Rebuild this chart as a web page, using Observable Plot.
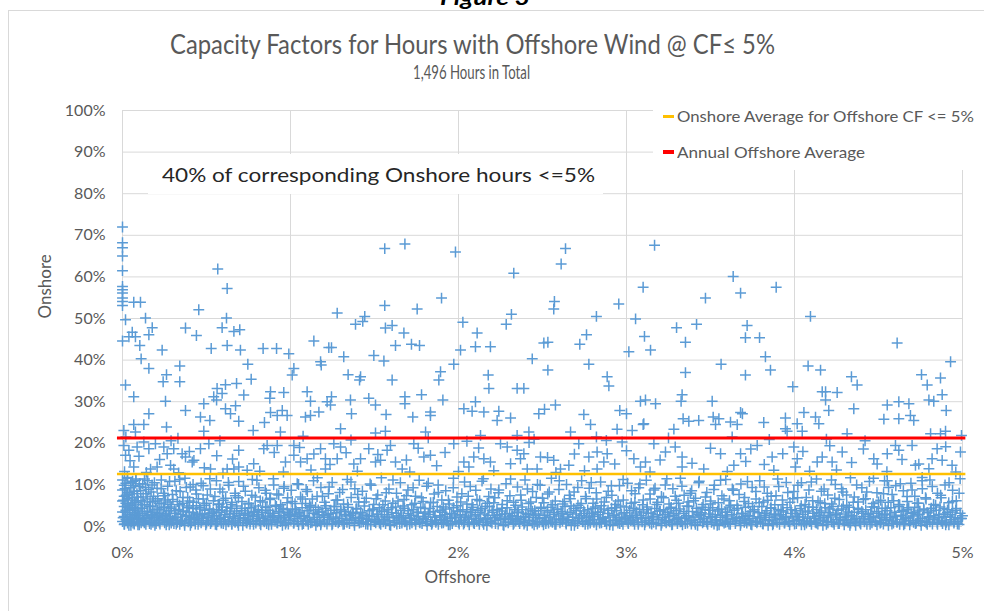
<!DOCTYPE html>
<html><head><meta charset="utf-8">
<script src="https://cdn.jsdelivr.net/npm/d3@7"></script>
<script src="https://cdn.jsdelivr.net/npm/@observablehq/plot@0.6"></script>
<style>
body{margin:0;background:#fff;}
#wrap{position:relative;width:984px;height:611px;overflow:hidden;font-family:Lato,"Open Sans",sans-serif;color:#595959;background:#fff;}
#frame{position:absolute;left:8px;top:10px;width:1000px;height:640px;border:1px solid #d9d9d9;box-sizing:border-box;}
#chart{position:absolute;left:0;top:0;}
.fit{position:absolute;white-space:nowrap;transform-origin:0 0;line-height:1;}
#legend{position:absolute;left:653px;top:99px;width:331px;height:71px;background:#fff;}
#note{position:absolute;left:148px;top:154px;width:455px;height:40px;background:#fff;}
.sw{position:absolute;left:663px;width:11px;}
</style></head>
<body><div id="wrap"><div id="frame"></div><div id="chart"></div>
<div class="fit" id="fig" style="font-weight:bold;font-style:italic;font-size:20px;color:#000;top:-13px;">Figure 3</div>
<div class="fit" id="title" style="font-size:27px;">Capacity Factors for Hours with Offshore Wind @ CF≤ 5%</div>
<div class="fit" id="subtitle" style="font-size:19px;">1,496 Hours in Total</div>
<div id="legend"></div>
<div class="sw" style="top:115px;height:2.5px;background:#FFC000;"></div>
<div class="sw" style="top:150px;height:3.5px;background:#FF0000;"></div>
<div class="fit" id="leg1" style="font-size:16px;">Onshore Average for Offshore CF &lt;= 5%</div>
<div class="fit" id="leg2" style="font-size:16px;">Annual Offshore Average</div>
<div id="note"></div>
<div class="fit" id="noteText" style="font-size:19px;color:#262626;">40% of corresponding Onshore hours &lt;=5%</div>
</div>
<script>
// ---- data (percent) ----
const offshoreTicks = [0, 1, 2, 3, 4, 5];
const onshoreTicks = [0, 10, 20, 30, 40, 50, 60, 70, 80, 90, 100];
const onshoreAvgForLowOffshore = 12.6;
const annualOffshoreAverage = 21.3;

// [offshore CF %, onshore CF %] — hours with onshore above ~21%
const upperPoints = [
[0,72.0],[0,68.2],[0,67.0],[0,65.0],[0,61.5],[0,57.7],[0,56.9],[0,56.1],[0,54.9],[0,54.1],[0,53.1],[0.067,53.9],[0.107,53.9],[0.018,49.7],[0.137,50.1],[0.177,47.8],[0.058,46.7],[0.077,45.6],[0.038,45.6],[0,44.6],[0.157,46.1],[0.103,43.5],[0.236,42.4],[0.111,40.3],[0.157,38.0],[0.018,34.0],[0.067,31.2],[0.157,27.1],[0.008,23.1],[0.067,24.5],[0.127,24.5],[0.077,22.7],[0.375,47.7],[0.44,45.9],[0.454,52.1],[0.567,61.9],[0.623,57.2],[0.619,50.1],[0.593,47.8],[0.663,46.9],[0.698,47.3],[0.528,42.8],[0.623,43.5],[0.702,42.4],[0.837,42.8],[0.917,42.8],[0.99,41.5],[0.746,39.0],[0.766,35.4],[0.341,38.6],[0.262,36.5],[0.242,34.8],[0.341,34.8],[0.256,30.1],[0.375,27.9],[0.262,23.9],[0.484,29.5],[0.464,26.3],[0.52,25.5],[0.484,22.9],[0.543,31.2],[0.563,33.2],[0.613,34.1],[0.593,32.0],[0.56,30.4],[0.679,34.4],[0.722,31.6],[0.613,28.3],[0.673,29.0],[0.643,27.1],[0.692,25.3],[0.778,23.1],[0.845,25.0],[0.881,32.4],[0.877,30.8],[0.96,32.2],[0.881,27.4],[0.921,26.7],[0.951,27.9],[0.98,26.7],[0.94,22.7],[1.02,38.0],[1.01,36.4],[1.139,44.6],[1.179,39.6],[1.183,38.8],[1.228,43.0],[1.099,32.4],[1.119,30.1],[1.218,30.0],[1.169,27.5],[1.089,26.3],[1.119,26.7],[1.075,21.7],
[1.561,66.8],[1.681,67.9],[1.982,66.0],[2.329,60.9],[1.899,54.9],[1.561,53.1],[1.754,52.3],[1.278,51.3],[1.442,50.5],[1.43,49.3],[1.387,48.6],[1.605,48.3],[1.565,47.7],[1.675,46.5],[1.625,43.5],[1.72,43.8],[1.768,43.5],[1.244,43.0],[1.317,40.8],[1.496,41.1],[1.556,39.8],[2.026,49.1],[2.111,46.5],[2.012,42.4],[2.101,43.2],[2.19,43.2],[1.972,39.0],[2.315,51.0],[2.284,48.6],[2.439,40.3],[2.508,44.1],[1.343,36.5],[1.417,36.0],[1.411,35.2],[1.605,35.2],[1.893,37.2],[1.883,35.2],[2.177,36.4],[2.181,33.2],[2.349,33.2],[2.389,33.2],[1.244,31.2],[1.238,29.2],[1.357,30.4],[1.363,27.1],[1.466,30.8],[1.506,29.2],[1.569,26.9],[1.681,31.2],[1.681,29.5],[1.78,31.7],[1.728,26.3],[1.833,27.5],[1.833,26.7],[1.907,30.4],[2.032,28.3],[2.081,27.7],[2.101,30.0],[2.151,27.5],[2.24,27.7],[2.23,25.5],[2.31,26.1],[2.478,27.1],[1.298,23.5],[1.506,22.5],[1.565,22.9],[1.804,22.7],[2.131,21.9],[2.419,22.7],[2.349,21.9],
[2.637,66.8],[2.611,63.1],[3.167,67.6],[3.635,60.1],[3.679,56.1],[3.099,57.5],[3.47,54.9],[2.571,54.1],[2.567,52.3],[2.954,53.5],[2.821,50.5],[3.054,49.9],[3.298,47.8],[3.417,48.6],[3.718,48.3],[3.708,45.4],[3.107,45.7],[3.351,44.3],[2.532,44.3],[2.722,43.8],[2.762,46.1],[3.014,42.0],[3.143,42.4],[2.532,37.6],[2.776,39.0],[2.885,36.0],[2.895,33.8],[3.351,37.0],[3.563,39.0],[3.708,36.4],[2.512,28.2],[2.577,29.2],[2.746,26.9],[2.786,24.5],[2.667,22.7],[2.821,21.5],[2.96,27.9],[3.0,27.1],[2.944,23.4],[3.034,23.1],[3.099,24.5],[3.083,30.1],[3.113,30.4],[3.173,29.5],[3.331,31.7],[3.325,30.1],[3.282,23.4],[3.337,25.9],[3.371,25.3],[3.43,25.5],[3.51,30.1],[3.516,26.3],[3.55,25.9],[3.53,24.5],[3.619,25.1],[3.659,24.5],[3.679,27.4],[3.629,21.5],[3.69,27.1],[3.103,24.7],
[3.891,57.5],[4.095,50.5],[3.792,45.4],[3.827,40.8],[3.857,37.6],[4.611,44.1],[4.929,39.6],[4.081,38.6],[4.155,37.6],[3.99,33.6],[4.339,36.0],[4.373,34.0],[4.165,32.4],[4.185,32.4],[4.254,32.2],[4.185,30.4],[4.204,27.9],[4.353,28.3],[4.056,27.4],[4.756,36.5],[4.79,34.0],[4.869,35.7],[4.879,31.7],[4.8,30.4],[4.829,30.1],[4.903,27.9],[4.552,29.2],[4.621,30.0],[4.681,29.5],[4.532,25.8],[4.621,25.9],[4.69,26.7],[4.71,25.5],[3.817,25.0],[3.946,26.1],[3.946,23.5],[3.956,22.9],[4.016,24.7],[4.046,22.9],[4.125,26.3],[4.145,24.7],[4.313,22.3],[4.81,22.3],[4.869,22.3],[4.899,22.9],[4.994,21.9],
[0.02,21.5],[0.33,21.2],[0.58,20.6],[1.36,20.8],[1.82,21.3],[2.05,20.5],[2.45,21.0],[2.88,20.7],[3.25,21.3],[3.85,20.9],[4.19,21.0],[4.42,20.6]
];

// hours with onshore between ~12% and ~21%
const middlePoints = [
[0.008,19.5],[0.018,17.1],[0.038,18.3],[0.087,19.1],[0.127,20.3],[0.157,18.7],[0.196,19.9],[0.246,19.1],[0.266,17.5],[0.305,18.7],[0.355,17.5],[0.375,16.7],[0.425,15.9],[0.464,18.7],[0.514,19.9],[0.524,13.8],[0.623,13.8],[0.692,18.3],[0.692,14.3],[0.742,13.5],[0.841,18.7],[0.861,19.5],[0.921,19.5],[0.97,15.5],[1.02,19.5],[1.02,17.1],[1.06,15.5],[1.099,16.3],[1.139,17.4],[1.179,18.7],[1.208,16.3],[0.067,14.3],[0.167,13.8],[0.206,14.3],[0.286,14.7],[0.305,13.8],[0.415,15.5],[0.663,13.8],
[1.258,19.9],[1.298,19.1],[1.377,15.0],[1.466,18.7],[1.506,15.5],[1.536,15.9],[1.575,18.3],[1.595,19.5],[1.625,15.5],[1.665,13.8],[1.734,19.9],[1.794,16.7],[1.833,17.1],[1.972,19.9],[2.032,15.5],[2.062,14.3],[2.091,16.7],[2.151,16.3],[2.19,15.5],[2.25,19.9],[2.29,19.1],[2.349,18.3],[2.369,16.3],[2.389,17.5],[2.409,13.8],[2.468,13.8],[2.488,16.7],[2.567,15.9],[2.657,14.7],[2.716,19.9],[2.776,16.7],[2.825,17.9],[2.865,15.5],[2.885,17.5],[2.974,20.3],[3.044,16.3],[3.083,14.3],[3.113,15.5],[1.417,16.3],[1.278,16.3],[1.208,13.8],[2.825,13.8],[2.607,13.8],
[3.163,19.9],[3.232,17.9],[3.331,16.7],[3.331,14.3],[3.46,13.8],[3.56,17.5],[3.639,14.7],[3.679,17.5],[3.778,19.5],[3.867,16.7],[3.877,13.5],[3.996,19.1],[4.016,16.3],[4.006,14.3],[4.135,15.5],[4.165,16.7],[4.224,15.5],[4.284,17.9],[4.472,16.3],[4.492,15.0],[4.552,17.5],[4.601,19.5],[4.621,18.3],[4.7,19.5],[4.72,14.7],[4.74,15.0],[4.819,16.3],[4.849,18.7],[4.879,15.9],[4.938,14.7],[4.988,17.9],[4.76,11.8],[4.552,11.0]
];
// more hours in the 12–21% band (offshore, onshore pairs, flat)
const middleExtra = [0.012,13.2,0.045,15.8,0.098,16.9,0.142,13.0,0.221,16.1,0.289,20.6,0.334,12.9,0.398,18.0,0.487,14.1,0.561,17.0,0.598,12.8,0.655,16.2,0.781,15.1,0.817,13.3,0.903,17.8,0.958,13.1,1.054,19.0,1.122,13.6,1.235,14.9,1.331,17.7,1.398,13.3,1.52,17.3,1.69,16.0,1.71,13.1,1.76,18.8,1.87,14.6,1.92,17.8,2.0,13.2,2.12,18.9,2.21,13.4,2.31,15.1,2.42,20.2,2.53,16.6,2.58,13.0,2.69,17.4,2.75,13.4,2.93,15.0,3.0,18.2,3.14,13.1,3.2,16.0,3.29,19.1,3.39,15.2,3.5,18.8,3.6,13.2,3.71,15.6,3.74,18.6,3.82,14.9,3.93,17.5,4.05,18.0,4.09,13.3,4.21,19.4,4.25,13.6,4.34,15.4,4.41,18.6,4.55,13.2,4.64,16.1,4.8,13.9,4.9,19.2,4.96,13.1];

// hours with onshore at or below ~12%
const lowerPoints = [
[0.00,1.2],[0.00,3.5],[0.00,6.1],[0.00,8.8],[0.00,11.2],[0.01,0.5],[0.01,2.4],[0.01,4.8],[0.01,7.3],[0.01,9.9],[0.02,1.7],[0.02,3.9],[0.02,5.6],[0.02,10.4],[0.03,0.8],[0.03,2.9],[0.03,6.8],[0.03,8.1],[0.03,11.6],[0.04,1.4],[0.04,4.2],[0.04,7.7],[0.05,0.3],[0.05,2.2],[0.05,5.1],[0.05,9.3],[0.06,1.9],[0.06,3.3],[0.06,6.4],[0.06,10.9],[0.07,0.6],[0.07,4.6],[0.07,8.5],[0.08,2.7],[0.08,5.8],[0.08,11.4],[0.09,1.1],[0.09,3.7],[0.09,7.1],[0.10,0.4],[0.10,2.5],[0.10,9.6],[0.11,4.4],[0.11,6.2],[0.12,1.5],[0.12,3.1],[0.12,10.2],[0.13,0.9],[0.13,5.3],[0.14,2.1],[0.14,7.9],[0.15,3.6],[0.15,11.0],[0.16,1.3],[0.16,4.9],[0.17,0.5],[0.17,2.8],[0.17,8.3],[0.18,3.4],[0.18,6.0],[0.19,1.8],[0.19,10.5],[0.20,0.7],[0.20,4.1],[0.21,2.6],[0.21,6.7],[0.22,1.0],[0.22,3.2],[0.23,5.5],[0.23,9.1],[0.24,1.6],[0.24,2.3],[0.25,4.7],[0.25,7.4],[0.26,0.4],[0.26,3.0],[0.27,1.9],[0.27,5.9],[0.28,2.4],[0.28,10.8],[0.29,0.8],[0.29,4.3],[0.30,1.4],[0.30,6.5],
[0.31,3.8],[0.32,0.6],[0.32,8.6],[0.33,2.1],[0.34,5.2],[0.34,11.3],[0.35,1.2],[0.36,3.6],[0.36,7.0],[0.37,0.3],[0.38,2.7],[0.38,9.4],[0.39,4.5],[0.40,1.7],[0.40,6.1],[0.41,0.9],[0.42,3.3],[0.42,10.1],[0.43,2.0],[0.44,5.0],[0.44,7.8],[0.45,0.5],[0.46,2.9],[0.46,4.2],[0.47,1.4],[0.48,6.6],[0.48,9.8],[0.49,3.1],[0.50,0.8],[0.50,5.6],[0.51,2.3],[0.52,4.0],[0.52,11.5],[0.53,1.1],[0.54,3.5],[0.55,7.2],[0.56,0.4],[0.56,2.6],[0.57,5.3],[0.58,1.8],[0.58,9.0],[0.59,3.9],[0.60,0.7],[0.60,6.3],[0.61,2.2],[0.62,4.6],[0.63,1.3],[0.63,10.6],[0.64,3.0],[0.65,0.6],[0.65,5.8],[0.66,2.4],[0.67,1.0],[0.67,8.0],[0.68,3.7],[0.69,0.3],[0.69,6.9],[0.70,2.0],[0.71,4.4],[0.72,1.5],[0.72,9.7],[0.73,3.2],[0.74,0.8],[0.75,5.4],[0.75,2.7],[0.76,1.2],[0.77,7.5],[0.78,3.4],[0.78,0.5],[0.79,4.9],[0.80,1.9],[0.80,11.1],[0.81,2.8],[0.82,0.7],[0.82,6.2],[0.83,3.8],[0.84,1.4],[0.85,8.7],[0.85,2.3],[0.86,4.7],[0.87,0.4],[0.88,3.1],[0.88,6.8],[0.89,1.7],[0.90,10.0],[0.90,2.5],[0.91,5.1],[0.92,0.9],[0.93,3.6],[0.93,7.6],[0.94,1.2],[0.95,4.3],[0.96,2.1],[0.96,9.2],[0.97,0.6],[0.98,5.7],[0.99,3.0],[0.99,1.5],
[1.00,2.7],[1.01,6.0],[1.02,0.8],[1.03,4.1],[1.04,1.9],[1.04,10.3],[1.05,3.3],[1.06,7.1],[1.07,0.5],[1.08,2.4],[1.09,5.5],[1.10,1.3],[1.10,8.4],[1.11,3.9],[1.12,0.9],[1.13,6.6],[1.14,2.2],[1.15,4.6],[1.16,1.1],[1.16,11.7],[1.17,3.5],[1.18,0.4],[1.19,7.3],[1.20,2.6],[1.21,5.0],[1.22,1.6],[1.23,9.5],[1.24,3.1],[1.25,0.7],[1.26,4.8],[1.27,2.0],[1.28,6.4],[1.29,1.2],[1.30,3.7],[1.31,8.9],[1.32,0.6],[1.33,2.9],[1.34,5.3],[1.35,1.5],[1.36,10.7],[1.37,3.4],[1.38,0.9],[1.39,4.2],[1.40,7.7],[1.41,2.1],[1.42,1.0],[1.43,3.0],[1.44,5.9],[1.45,1.8],[1.46,0.5],[1.47,2.5],[1.48,9.9],[1.49,4.0],[1.50,1.3],[1.51,6.7],[1.52,2.8],[1.53,0.8],[1.54,3.6],[1.55,5.2],[1.56,1.7],[1.57,8.1],[1.58,2.3],[1.59,0.4],[1.60,4.5],[1.61,11.2],[1.62,1.4],[1.63,3.2],[1.64,6.1],[1.65,0.7],[1.66,2.6],[1.67,4.9],[1.68,1.1],[1.69,7.4],[1.70,3.8],[1.71,0.6],[1.72,2.0],[1.73,9.3],[1.74,5.6],[1.75,1.6],[1.76,3.3],[1.77,0.9],[1.78,6.9],[1.79,2.4],[1.80,4.3],[1.81,1.2],[1.82,10.4],[1.83,3.5],[1.84,0.5],[1.85,5.8],[1.86,2.2],[1.87,1.5],[1.88,8.2],[1.89,3.9],[1.90,0.8],[1.91,4.7],[1.92,2.9],[1.93,1.3],[1.94,6.3],[1.95,0.4],[1.96,3.1],[1.97,11.6],[1.98,2.1],[1.99,5.0],
[2.00,1.0],[2.01,3.6],[2.02,7.9],[2.03,0.6],[2.04,2.5],[2.05,5.4],[2.06,1.8],[2.07,9.6],[2.08,4.1],[2.09,0.9],[2.10,2.8],[2.11,6.5],[2.12,1.4],[2.13,3.4],[2.14,10.9],[2.15,0.5],[2.16,4.8],[2.17,2.0],[2.18,7.2],[2.19,1.1],[2.20,3.9],[2.21,5.7],[2.22,0.7],[2.23,2.6],[2.24,8.8],[2.25,1.6],[2.26,4.4],[2.27,0.3],[2.28,3.0],[2.29,6.2],[2.30,1.9],[2.31,11.4],[2.32,2.4],[2.33,0.8],[2.34,5.1],[2.35,3.3],[2.36,1.2],[2.37,7.6],[2.38,4.0],[2.39,0.6],[2.40,2.2],[2.41,9.0],[2.42,1.5],[2.43,5.9],[2.44,3.7],[2.45,0.4],[2.46,2.7],[2.47,10.1],[2.48,1.0],[2.49,4.6],[2.50,6.8],[2.51,2.1],[2.52,0.7],[2.53,3.5],[2.54,8.3],[2.55,1.3],[2.56,5.2],[2.57,2.9],[2.58,0.5],[2.59,4.2],[2.60,11.0],[2.61,1.7],[2.62,3.2],[2.63,6.0],[2.64,0.9],[2.65,2.3],[2.66,7.5],[2.67,4.9],[2.68,1.4],[2.69,0.3],[2.70,3.8],[2.71,9.4],[2.72,2.0],[2.73,5.5],[2.74,1.1],[2.75,3.1],[2.76,6.7],[2.77,0.6],[2.78,2.5],[2.79,10.6],[2.80,4.3],[2.81,1.6],[2.82,8.1],[2.83,3.4],[2.84,0.8],[2.85,5.0],[2.86,2.2],[2.87,1.2],[2.88,7.0],[2.89,3.9],[2.90,0.4],[2.91,9.8],[2.92,2.7],[2.93,4.5],[2.94,1.5],[2.95,6.1],[2.96,0.7],[2.97,3.0],[2.98,11.3],[2.99,1.9],
[3.00,4.7],[3.01,0.9],[3.02,2.6],[3.03,8.6],[3.04,1.3],[3.05,5.8],[3.06,3.5],[3.07,0.5],[3.08,10.2],[3.09,2.1],[3.10,6.4],[3.11,1.0],[3.12,4.0],[3.13,3.2],[3.14,7.8],[3.15,0.6],[3.16,2.4],[3.17,9.2],[3.18,5.3],[3.19,1.7],[3.20,3.7],[3.21,0.8],[3.22,6.9],[3.23,2.8],[3.24,11.5],[3.25,1.4],[3.26,4.4],[3.27,0.4],[3.28,3.1],[3.29,7.3],[3.30,2.0],[3.31,5.6],[3.32,1.1],[3.33,9.7],[3.34,3.6],[3.35,0.7],[3.36,4.9],[3.37,2.3],[3.38,8.0],[3.39,1.5],[3.40,6.2],[3.41,0.5],[3.42,3.3],[3.43,10.5],[3.44,2.6],[3.45,4.6],[3.46,1.2],[3.47,7.1],[3.48,0.9],[3.49,3.9],[3.50,5.4],[3.51,2.2],[3.52,8.9],[3.53,1.6],[3.54,0.3],[3.55,4.1],[3.56,11.1],[3.57,2.7],[3.58,6.6],[3.59,1.0],[3.60,3.4],[3.61,0.6],[3.62,5.1],[3.63,9.0],[3.64,2.0],[3.65,1.3],[3.66,4.3],[3.67,7.7],[3.68,0.8],[3.69,3.0],[3.70,6.0],[3.71,1.8],[3.72,10.8],[3.73,2.5],[3.74,0.5],[3.75,4.8],[3.76,3.6],[3.77,8.4],[3.78,1.2],[3.79,5.7],[3.80,2.1],[3.81,0.7],[3.82,9.5],[3.83,3.2],[3.84,6.3],[3.85,1.5],[3.86,4.5],[3.87,0.4],[3.88,2.8],[3.89,7.4],[3.90,11.4],[3.91,1.9],[3.92,3.8],[3.93,5.2],[3.94,0.9],[3.95,2.4],[3.96,8.2],[3.97,1.1],[3.98,4.0],[3.99,6.7],
[4.00,0.6],[4.01,3.1],[4.02,9.9],[4.03,1.7],[4.04,5.0],[4.05,2.3],[4.06,0.4],[4.07,7.0],[4.08,3.7],[4.09,1.2],[4.10,10.7],[4.11,4.6],[4.12,2.0],[4.13,0.8],[4.14,6.1],[4.15,3.3],[4.16,8.5],[4.17,1.4],[4.18,5.5],[4.19,0.5],[4.20,2.7],[4.21,4.2],[4.22,11.2],[4.23,1.0],[4.24,6.8],[4.25,3.0],[4.26,0.7],[4.27,2.2],[4.28,9.1],[4.29,4.9],[4.30,1.6],[4.31,7.6],[4.32,3.5],[4.33,0.3],[4.34,2.6],[4.35,5.8],[4.36,1.1],[4.37,10.0],[4.38,4.1],[4.39,0.9],[4.40,3.2],[4.41,6.5],[4.42,1.8],[4.43,8.3],[4.44,2.4],[4.45,0.5],[4.46,4.7],[4.47,11.6],[4.48,1.3],[4.49,3.6],[4.50,5.9],[4.51,0.8],[4.52,2.1],[4.53,7.9],[4.54,4.4],[4.55,1.5],[4.56,9.4],[4.57,3.0],[4.58,0.6],[4.59,6.2],[4.60,2.5],[4.61,1.0],[4.62,5.3],[4.63,10.3],[4.64,3.8],[4.65,0.4],[4.66,2.0],[4.67,7.2],[4.68,4.5],[4.69,1.4],[4.70,8.8],[4.71,3.3],[4.72,0.7],[4.73,5.6],[4.74,2.8],[4.75,1.2],[4.76,11.0],[4.77,4.0],[4.78,6.9],[4.79,0.5],[4.80,2.3],[4.81,3.7],[4.82,9.6],[4.83,1.7],[4.84,5.1],[4.85,0.9],[4.86,2.9],[4.87,7.5],[4.88,1.3],[4.89,4.3],[4.90,0.4],[4.91,3.4],[4.92,10.5],[4.93,2.2],[4.94,6.0],[4.95,1.1],[4.96,3.9],[4.97,0.6],[4.98,8.0],[4.99,1.9],[5.00,2.6]
];

// the dense 0–5% onshore floor (offshore, onshore pairs, flat)
const floorHours = [
0.004,2.1,0.012,0.6,0.019,3.4,0.026,1.5,0.031,4.6,0.038,0.3,0.044,2.8,0.052,1.1,0.058,3.9,0.063,0.8,0.071,2.3,0.077,4.2,0.083,1.7,0.092,0.4,0.097,3.1,0.104,2.0,0.111,0.9,0.118,4.4,0.124,1.3,0.133,2.7,0.139,0.5,0.146,3.6,0.152,1.9,0.161,0.7,0.167,4.8,0.172,2.5,0.181,1.0,0.188,3.3,0.193,0.3,0.202,2.2,0.209,4.0,0.214,1.4,0.223,0.6,0.229,3.0,0.236,1.8,0.243,4.5,0.251,0.9,0.257,2.6,0.264,1.2,0.272,3.8,0.278,0.4,0.285,2.0,0.291,4.7,0.298,1.6,0.306,0.7,0.313,3.2,0.319,2.3,0.327,1.0,0.334,4.1,0.341,0.5,0.347,2.9,0.356,1.5,0.362,3.7,0.369,0.8,0.377,2.4,0.383,4.9,0.391,1.1,0.398,3.5,0.404,0.3,0.412,2.1,0.419,4.3,0.425,1.7,0.433,0.6,0.439,3.0,0.447,2.5,0.454,1.3,0.461,4.6,0.468,0.9,0.474,2.8,0.482,1.9,0.489,3.9,0.496,0.4,
0.503,2.2,0.511,1.4,0.517,4.2,0.524,0.7,0.532,3.1,0.538,1.8,0.546,2.6,0.553,0.5,0.559,4.0,0.567,1.2,0.574,3.4,0.581,2.0,0.588,0.8,0.594,4.7,0.602,1.6,0.609,2.9,0.616,0.4,0.622,3.7,0.631,1.1,0.637,2.3,0.644,4.4,0.651,0.6,0.658,1.9,0.666,3.2,0.672,1.3,0.679,4.9,0.687,0.9,0.694,2.7,0.701,1.5,0.708,3.8,0.716,0.3,0.722,2.1,0.729,4.3,0.737,1.0,0.744,3.0,0.751,1.7,0.759,0.6,0.766,4.5,0.772,2.4,0.779,1.2,0.787,3.6,0.794,0.8,0.801,2.8,0.808,4.1,0.815,1.4,0.823,0.4,0.829,3.3,0.836,2.0,0.844,1.1,0.851,4.6,0.858,0.7,0.866,2.5,0.872,3.9,0.879,1.6,0.887,0.5,0.894,3.1,0.901,2.2,0.908,1.3,0.916,4.8,0.923,0.9,0.929,2.6,0.937,3.5,0.944,1.8,0.952,0.3,0.958,4.0,0.966,2.3,0.973,1.0,0.981,3.4,0.987,0.6,0.994,2.9,
1.003,1.5,1.011,4.2,1.018,0.8,1.026,2.4,1.033,3.7,1.041,1.2,1.048,0.4,1.054,3.0,1.062,1.9,1.069,4.5,1.077,0.7,1.084,2.6,1.091,1.4,1.099,3.8,1.106,0.5,1.113,2.1,1.121,4.7,1.128,1.0,1.136,3.2,1.143,1.7,1.151,0.3,1.158,2.8,1.165,4.0,1.173,1.3,1.181,0.8,1.188,3.5,1.195,2.2,1.203,1.1,1.209,4.4,1.217,0.6,1.224,2.9,1.232,1.6,1.239,3.9,1.247,0.4,1.254,2.3,1.262,4.8,1.269,1.2,1.276,3.3,1.284,0.9,1.291,2.0,1.299,4.1,1.306,1.5,1.313,0.5,1.321,3.6,1.328,2.5,1.336,1.0,1.343,4.6,1.351,0.7,1.358,2.7,1.366,1.8,1.373,3.1,1.381,0.3,1.388,2.2,1.395,4.3,1.403,1.4,1.41,0.8,1.418,3.4,1.425,2.0,1.433,1.1,1.44,4.9,1.448,0.6,1.455,2.6,1.463,1.7,1.47,3.8,1.478,0.4,1.485,2.4,1.492,4.2,1.499,1.2,
1.507,0.9,1.514,3.0,1.522,1.6,1.529,4.5,1.537,0.5,1.544,2.3,1.552,1.1,1.559,3.7,1.566,0.7,1.574,2.8,1.581,4.1,1.589,1.4,1.596,0.3,1.604,3.3,1.611,2.1,1.618,1.0,1.626,4.7,1.633,0.6,1.641,2.5,1.648,1.8,1.656,3.9,1.663,0.8,1.671,2.2,1.678,4.4,1.686,1.3,1.693,0.4,1.701,3.1,1.708,1.9,1.716,2.7,1.723,0.9,1.731,4.0,1.738,1.5,1.745,0.5,1.753,3.5,1.76,2.4,1.768,1.1,1.775,4.6,1.783,0.7,1.79,2.0,1.798,3.2,1.805,1.6,1.813,0.3,1.82,2.9,1.828,4.3,1.835,1.2,1.843,0.8,1.85,3.6,1.858,2.2,1.865,1.0,1.873,4.8,1.88,0.5,1.888,2.6,1.895,1.7,1.903,3.4,1.91,0.9,1.918,2.3,1.925,4.2,1.933,1.4,1.94,0.4,1.948,3.0,1.955,1.9,1.963,0.7,1.97,4.5,1.978,2.5,1.985,1.2,1.993,3.7,
2.004,0.6,2.011,2.8,2.019,1.5,2.026,4.0,2.034,0.9,2.041,2.2,2.049,3.6,2.056,1.1,2.064,0.4,2.071,3.3,2.079,1.8,2.086,4.6,2.094,0.7,2.101,2.5,2.109,1.3,2.116,3.9,2.124,0.5,2.131,2.0,2.139,4.3,2.146,1.0,2.154,3.0,2.161,1.6,2.169,0.3,2.176,2.7,2.184,4.8,2.191,1.2,2.199,0.8,2.206,3.4,2.214,2.1,2.221,1.5,2.229,4.1,2.236,0.6,2.244,2.9,2.251,1.9,2.259,3.7,2.266,0.4,2.274,2.3,2.281,1.1,2.289,4.5,2.296,0.9,2.304,3.1,2.311,1.7,2.319,2.6,2.326,0.5,2.334,4.0,2.341,1.3,2.349,2.0,2.356,3.5,2.364,0.7,2.371,1.6,2.379,4.7,2.386,2.4,2.394,1.0,2.401,3.2,2.409,0.3,2.416,2.8,2.424,1.4,2.431,4.2,2.439,0.8,2.446,2.2,2.454,3.8,2.461,1.2,2.469,0.6,2.476,3.0,2.484,1.9,2.491,4.4,2.499,1.1,
2.506,0.4,2.514,2.7,2.521,1.5,2.529,3.9,2.536,0.8,2.544,2.3,2.551,4.6,2.559,1.0,2.566,3.3,2.574,0.5,2.581,1.8,2.589,4.1,2.596,2.5,2.604,0.9,2.611,3.6,2.619,1.3,2.626,2.0,2.634,4.8,2.641,0.6,2.649,2.9,2.656,1.6,2.664,3.4,2.671,0.3,2.679,2.2,2.686,4.3,2.694,1.1,2.701,3.0,2.709,0.7,2.716,1.9,2.724,4.5,2.731,2.6,2.739,1.2,2.746,3.7,2.754,0.5,2.761,2.1,2.769,4.0,2.776,1.4,2.784,0.8,2.791,3.2,2.799,2.4,2.806,1.0,2.814,4.7,2.821,0.4,2.829,2.8,2.836,1.7,2.844,3.5,2.851,0.9,2.859,2.0,2.866,4.2,2.874,1.3,2.881,0.6,2.889,3.1,2.896,2.3,2.904,1.1,2.911,4.4,2.919,0.3,2.926,2.7,2.934,1.5,2.941,3.8,2.949,0.8,2.956,2.2,2.964,4.9,2.971,1.2,2.979,0.5,2.986,3.3,2.994,1.8,
3.003,2.5,3.011,0.7,3.018,3.9,3.026,1.4,3.033,2.2,3.041,4.4,3.048,0.5,3.056,3.0,3.063,1.8,3.071,0.9,3.078,4.1,3.086,2.6,3.093,1.1,3.101,3.5,3.108,0.4,3.116,2.0,3.123,4.7,3.131,1.5,3.138,0.8,3.146,3.2,3.153,2.3,3.161,1.0,3.168,4.3,3.176,0.6,3.183,2.8,3.191,1.7,3.198,3.7,3.206,0.3,3.213,2.1,3.221,4.0,3.228,1.3,3.236,0.9,3.243,3.4,3.251,2.4,3.258,1.1,3.266,4.6,3.273,0.5,3.281,2.7,3.288,1.6,3.296,3.8,3.303,0.7,3.311,2.2,3.318,4.2,3.326,1.2,3.333,0.4,3.341,3.1,3.348,1.9,3.356,2.6,3.363,0.8,3.371,4.8,3.378,1.4,3.386,0.6,3.393,3.6,3.401,2.3,3.408,1.0,3.416,4.4,3.423,0.3,3.431,2.9,3.438,1.7,3.446,3.3,3.453,0.9,3.461,2.0,3.468,4.1,3.476,1.2,3.483,0.5,3.491,3.0,3.498,2.4,
3.506,1.0,3.513,4.5,3.521,0.6,3.528,2.8,3.536,1.6,3.543,3.7,3.551,0.4,3.558,2.2,3.566,4.2,3.573,1.3,3.581,0.8,3.588,3.4,3.596,2.5,3.603,1.1,3.611,4.7,3.618,0.5,3.626,2.9,3.633,1.8,3.641,3.9,3.648,0.7,3.656,2.1,3.663,4.3,3.671,1.4,3.678,0.3,3.686,3.2,3.693,2.4,3.701,1.0,3.708,4.6,3.716,0.8,3.723,2.6,3.731,1.5,3.738,3.6,3.746,0.4,3.753,2.0,3.761,4.0,3.768,1.2,3.776,0.9,3.783,3.3,3.791,2.3,3.798,1.1,3.806,4.8,3.813,0.6,3.821,2.7,3.828,1.7,3.836,3.8,3.843,0.3,3.851,2.2,3.858,4.4,3.866,1.3,3.873,0.7,3.881,3.0,3.888,2.5,3.896,1.0,3.903,4.1,3.911,0.5,3.918,2.8,3.926,1.6,3.933,3.5,3.941,0.8,3.948,2.1,3.956,4.5,3.963,1.2,3.971,0.4,3.978,3.1,3.986,2.4,3.993,1.4,
4.004,3.8,4.011,0.7,4.019,2.3,4.026,1.5,4.034,4.3,4.041,0.4,4.049,2.9,4.056,1.1,4.064,3.5,4.071,0.8,4.079,2.0,4.086,4.7,4.094,1.3,4.101,0.5,4.109,3.2,4.116,2.4,4.124,1.0,4.131,4.1,4.139,0.6,4.146,2.7,4.154,1.8,4.161,3.7,4.169,0.3,4.176,2.2,4.184,4.5,4.191,1.2,4.199,0.9,4.206,3.3,4.214,2.5,4.221,1.1,4.229,4.8,4.236,0.5,4.244,2.8,4.251,1.6,4.259,3.9,4.266,0.7,4.274,2.1,4.281,4.2,4.289,1.4,4.296,0.4,4.304,3.0,4.311,2.3,4.319,1.0,4.326,4.6,4.334,0.8,4.341,2.6,4.349,1.7,4.356,3.4,4.364,0.3,4.371,2.0,4.379,4.4,4.386,1.3,4.394,0.6,4.401,3.6,4.409,2.4,4.416,1.1,4.424,4.0,4.431,0.5,4.439,2.9,4.446,1.8,4.454,3.2,4.461,0.9,4.469,2.2,4.476,4.7,4.484,1.2,4.491,0.4,4.499,3.1,
4.506,2.5,4.514,1.0,4.521,4.3,4.529,0.6,4.536,2.8,4.544,1.6,4.551,3.8,4.559,0.3,4.566,2.1,4.574,4.5,4.581,1.3,4.589,0.8,4.596,3.4,4.604,2.4,4.611,1.1,4.619,4.8,4.626,0.5,4.634,2.7,4.641,1.7,4.649,3.6,4.656,0.7,4.664,2.2,4.671,4.1,4.679,1.4,4.686,0.4,4.694,3.1,4.701,2.5,4.709,1.0,4.716,4.6,4.724,0.8,4.731,2.9,4.739,1.5,4.746,3.7,4.754,0.3,4.761,2.0,4.769,4.2,4.776,1.2,4.784,0.9,4.791,3.3,4.799,2.3,4.806,1.1,4.814,4.4,4.821,0.6,4.829,2.6,4.836,1.8,4.844,3.9,4.851,0.5,4.859,2.2,4.866,4.7,4.874,1.3,4.881,0.7,4.889,3.0,4.896,2.4,4.904,1.0,4.911,4.0,4.919,0.4,4.926,2.8,4.934,1.6,4.941,3.5,4.949,0.8,4.956,2.1,4.964,4.3,4.971,1.2,4.979,0.5,4.986,3.2,4.994,1.9
];

// additional hours in the 5–12% onshore range (offshore, onshore pairs, flat)
const lowerExtra = [
0.006,6.3,0.015,9.1,0.022,7.5,0.029,11.8,0.036,5.4,0.043,8.2,0.049,10.6,0.056,6.9,0.064,9.8,0.072,5.7,0.079,11.1,0.086,7.9,0.094,6.2,0.101,10.3,0.108,8.6,0.116,5.2,0.123,7.1,0.131,11.4,0.138,9.4,0.147,6.6,0.156,8.9,0.164,5.9,0.176,10.0,0.185,7.3,0.197,6.1,0.206,9.2,0.218,5.5,0.231,11.2,0.244,8.0,0.256,6.4,0.269,9.7,0.283,5.3,0.297,7.7,0.312,10.9,0.326,6.0,0.343,8.4,0.358,5.6,0.372,11.6,0.388,7.0,0.403,9.5,0.421,5.8,0.437,8.8,0.452,6.7,0.468,10.4,0.487,5.1,0.505,7.6,0.523,9.0,0.541,6.2,0.559,11.0,0.577,5.4,0.596,8.3,0.614,6.8,0.633,9.9,0.651,5.3,0.672,7.4,0.692,10.8,0.711,6.0,0.731,8.5,0.752,5.6,0.773,11.3,0.791,7.1,0.812,9.3,0.834,5.9,0.856,8.0,0.877,6.5,0.898,11.5,0.919,7.8,0.941,5.2,0.962,9.6,0.983,6.9,
1.005,8.7,1.027,5.5,1.048,10.1,1.071,6.6,1.093,8.9,1.114,5.1,1.137,11.0,1.158,7.2,1.181,9.4,1.203,5.8,1.226,7.9,1.248,10.6,1.271,6.3,1.293,8.2,1.316,5.4,1.338,11.3,1.361,7.0,1.383,9.1,1.406,5.9,1.428,8.5,1.451,6.8,1.474,10.2,1.496,5.3,1.519,7.6,1.541,11.7,1.564,6.1,1.586,9.0,1.609,5.6,1.631,8.0,1.654,10.5,1.676,6.5,1.699,8.8,1.721,5.2,1.744,7.3,1.766,11.1,1.789,6.0,1.811,9.7,1.834,5.7,1.856,7.8,1.879,10.0,1.901,6.4,1.924,8.6,1.946,5.4,1.969,9.3,1.991,7.1,
2.013,5.9,2.036,10.7,2.058,7.3,2.081,5.2,2.103,8.7,2.126,6.2,2.148,11.5,2.171,5.6,2.193,9.0,2.216,6.9,2.238,8.1,2.261,5.3,2.283,10.3,2.306,7.4,2.328,5.8,2.351,9.5,2.373,6.3,2.396,11.2,2.418,5.5,2.441,8.4,2.463,7.0,2.486,9.9,2.508,5.7,2.531,7.8,2.553,11.6,2.576,6.1,2.598,8.9,2.621,5.4,2.643,10.1,2.666,6.7,2.688,8.3,2.711,5.1,2.733,11.0,2.756,7.2,2.778,9.2,2.801,5.6,2.823,6.6,2.846,10.7,2.868,5.9,2.891,8.5,2.913,7.5,2.936,5.3,2.958,9.8,2.981,6.4,
3.006,10.4,3.028,5.6,3.051,7.9,3.073,9.3,3.096,5.2,3.118,11.1,3.141,6.6,3.163,8.8,3.186,5.8,3.208,7.2,3.231,10.0,3.253,5.4,3.276,9.1,3.298,6.3,3.321,11.6,3.343,7.5,3.366,5.9,3.388,8.6,3.411,6.8,3.433,10.9,3.456,5.3,3.478,8.2,3.501,6.1,3.523,9.9,3.546,5.7,3.568,7.4,3.591,11.3,3.613,6.2,3.636,8.7,3.658,5.1,3.681,10.2,3.703,7.0,3.726,5.5,3.748,9.4,3.771,6.6,3.793,11.0,3.816,5.9,3.838,8.0,3.861,7.3,3.883,5.2,3.906,9.6,3.928,6.4,3.951,10.6,3.973,5.8,3.996,8.4,
4.018,6.9,4.041,10.5,4.063,5.3,4.086,8.8,4.108,6.2,4.131,11.4,4.153,5.7,4.176,9.0,4.198,7.6,4.221,5.4,4.243,10.1,4.266,6.5,4.288,8.3,4.311,5.1,4.333,11.7,4.356,7.1,4.378,5.9,4.401,9.3,4.423,6.7,4.446,10.8,4.468,5.5,4.491,8.1,4.513,6.3,4.536,11.0,4.558,5.8,4.581,7.7,4.603,9.8,4.626,5.2,4.648,8.6,4.671,6.0,4.693,10.4,4.716,7.3,4.738,5.6,4.761,9.1,4.783,6.6,4.806,11.2,4.828,5.3,4.851,8.0,4.873,6.9,4.896,10.0,4.918,5.7,4.941,8.7,4.963,6.2,4.986,11.5
];

const pairs = flat => d3.range(0, flat.length, 2).map(i => [flat[i], flat[i + 1]]);
const hours = [...pairs(floorHours), ...lowerPoints, ...pairs(lowerExtra), ...middlePoints, ...pairs(middleExtra), ...upperPoints]
  .map(([off, on]) => ({off, on}));
const pct = d => d + "%";
const FONT = "Lato, 'Open Sans', sans-serif";

const chart = Plot.plot({
  width: 984, height: 611,
  marginLeft: 122, marginRight: 22, marginTop: 110, marginBottom: 85,
  x: {domain: [0, 5]},
  y: {domain: [0, 100]},
  style: {fontFamily: FONT, fontSize: "16px", color: "#595959", background: "transparent", overflow: "visible"},
  marks: [
    Plot.gridX(offshoreTicks, {stroke: "#d9d9d9", strokeOpacity: 1, strokeWidth: 1}),
    Plot.gridY(onshoreTicks, {stroke: "#d9d9d9", strokeOpacity: 1, strokeWidth: 1}),
    Plot.axisX(offshoreTicks, {tickSize: 0, tickPadding: 20, tickFormat: pct, label: null, fill: "#595959"}),
    Plot.axisY(onshoreTicks, {tickSize: 0, tickPadding: 17, tickFormat: pct, label: null, fill: "#595959"}),
    Plot.dot(hours, {x: "off", y: "on", symbol: "plus", r: 3.6, fill: "none", stroke: "#5B9BD5", strokeWidth: 1.5}),
    Plot.ruleY([onshoreAvgForLowOffshore], {x1: -0.03, x2: 5.02, stroke: "#FFC000", strokeWidth: 2.5}),
    Plot.ruleY([annualOffshoreAverage], {x1: -0.03, x2: 5.02, stroke: "#FF0000", strokeWidth: 3}),
    Plot.text(["Onshore"], {frameAnchor: "left", dx: -77, rotate: -90, fontSize: 17, fill: "#595959"}),
    Plot.text(["Offshore"], {frameAnchor: "bottom", dx: -85, dy: 56, fontSize: 17, fill: "#595959"})
  ]
});
document.getElementById("chart").appendChild(chart);

// fit overlay texts to the measured extents of the reference
function fit(id, left, width, top) {
  const el = document.getElementById(id);
  const w = el.getBoundingClientRect().width;
  el.style.left = left + "px";
  el.style.top = top + "px";
  el.style.transform = `scaleX(${width / w})`;
}
fit("title", 170, 605, 30);
fit("subtitle", 413, 117, 62);
fit("leg1", 677, 297, 108);
fit("leg2", 677, 188, 144);
fit("noteText", 162, 433, 165);
fit("fig", 440, 90, -13);
</script>
</body></html>
